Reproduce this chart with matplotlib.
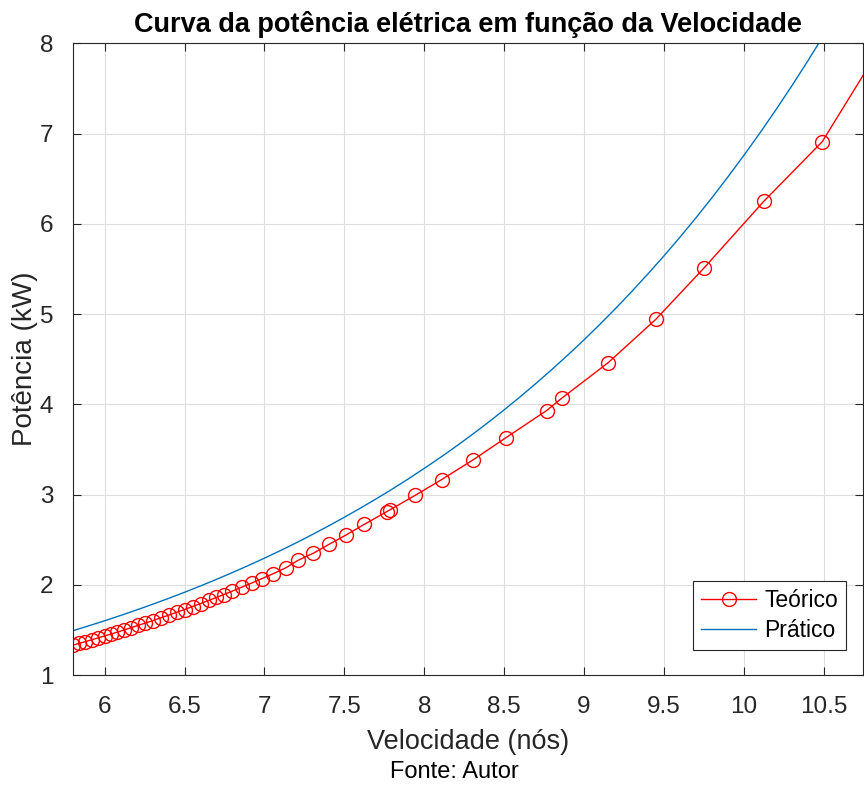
import matplotlib
matplotlib.use("Agg")
import matplotlib.pyplot as plt

plt.rcParams["font.family"] = ["Liberation Sans", "DejaVu Sans"]

# Curva teórica (pontos calculados)
vel_teorico = [5.80, 5.84, 5.88, 5.92, 5.96, 6.00, 6.04, 6.08, 6.12, 6.165,
               6.21, 6.255, 6.30, 6.35, 6.40, 6.45, 6.50, 6.55, 6.60, 6.65,
               6.70, 6.745, 6.796, 6.859, 6.921, 6.984, 7.056, 7.136, 7.209,
               7.306, 7.406, 7.509, 7.625, 7.765, 7.785, 7.942, 8.108, 8.302,
               8.511, 8.765, 8.862, 9.150, 9.448, 9.750, 10.125, 10.490, 10.880]
pot_teorico = [1.330, 1.350, 1.370, 1.391, 1.412, 1.433, 1.454, 1.476, 1.498, 1.524,
               1.550, 1.576, 1.602, 1.633, 1.663, 1.695, 1.726, 1.759, 1.792, 1.826,
               1.860, 1.892, 1.928, 1.974, 2.020, 2.068, 2.124, 2.190, 2.270,
               2.350, 2.450, 2.550, 2.670, 2.810, 2.830, 2.990, 3.165, 3.380,
               3.630, 3.930, 4.070, 4.460, 4.940, 5.510, 6.250, 6.910, 8.030]

# Curva prática (medições a cada 0.1 nó)
vel_pratico = [5.8, 5.9, 6.0, 6.1, 6.2, 6.3, 6.4, 6.5, 6.6, 6.7,
               6.8, 6.9, 7.0, 7.1, 7.2, 7.3, 7.4, 7.5, 7.6, 7.7,
               7.8, 7.9, 8.0, 8.1, 8.2, 8.3, 8.4, 8.5, 8.6, 8.7,
               8.8, 8.9, 9.0, 9.1, 9.2, 9.3, 9.4, 9.5, 9.6, 9.7,
               9.8, 9.9, 10.0, 10.1, 10.2, 10.3, 10.4, 10.5]
pot_pratico = [1.490, 1.545, 1.601, 1.660, 1.721, 1.784, 1.849, 1.917, 1.987, 2.060,
               2.136, 2.214, 2.295, 2.379, 2.466, 2.557, 2.651, 2.748, 2.849, 2.953,
               3.061, 3.173, 3.290, 3.410, 3.535, 3.665, 3.799, 3.939, 4.083, 4.233,
               4.388, 4.549, 4.715, 4.888, 5.067, 5.253, 5.446, 5.645, 5.852, 6.067,
               6.289, 6.520, 6.759, 7.006, 7.263, 7.529, 7.805, 8.092]

xticks = [6, 6.5, 7, 7.5, 8, 8.5, 9, 9.5, 10, 10.5]
yticks = [1, 2, 3, 4, 5, 6, 7, 8]

fig = plt.figure(figsize=(8.64, 7.85), dpi=100)
ax = fig.add_axes([0.0841, 0.1401, 0.9147, 0.8047])

ax.plot(vel_teorico, pot_teorico, "-o", color="#ff0000", lw=1.0,
        markersize=10, markerfacecolor="none", markeredgewidth=1.0,
        label="Teórico")
ax.plot(vel_pratico, pot_pratico, "-", color="#0072BD", lw=1.0, label="Prático")

ax.set_xlim(5.8, 10.745)
ax.set_ylim(1, 8)
ax.set_xticks(xticks)
ax.set_xticklabels([f"{t:g}" for t in xticks])
ax.set_yticks(yticks)

ax.grid(True, color="#dedede", lw=0.8)
ax.set_axisbelow(True)
for s in ax.spines.values():
    s.set_color("#262626")
    s.set_linewidth(0.8)
ax.tick_params(direction="in", length=5.5, width=0.8, colors="#262626",
               labelsize=17.5, top=True, right=True)
ax.tick_params(axis="x", pad=15)
ax.tick_params(axis="y", pad=14)

ax.set_title("Curva da potência elétrica em função da Velocidade",
             fontsize=19.5, fontweight="bold", pad=8)
ax.set_xlabel("Velocidade (nós)", fontsize=19.5, color="#262626", labelpad=8)
ax.set_ylabel("Potência (kW)", fontsize=20, color="#262626", labelpad=1.5)

leg = ax.legend(loc="lower right", fontsize=16.5, handlelength=2.4,
                handletextpad=0.35, fancybox=False, framealpha=1,
                edgecolor="#262626", borderpad=0.35, labelspacing=0.3,
                borderaxespad=0, bbox_to_anchor=(0.9785, 0.0396))
leg.get_frame().set_linewidth(0.8)

fig.text(0.5255, 0.003, "Fonte: Autor", ha="center", va="bottom", fontsize=17)

fig.savefig("out.png", dpi=100)
